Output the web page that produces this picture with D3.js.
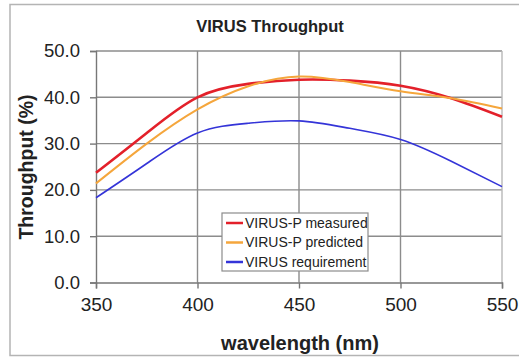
<!DOCTYPE html>
<html>
<head>
<meta charset="utf-8">
<script src="https://cdn.jsdelivr.net/npm/d3@7"></script>
<style>
  body { margin: 0; background: #fff; }
  text { font-family: "Liberation Sans", Arial, sans-serif; fill: #222; }
</style>
</head>
<body>
<div class="chartContainer"></div>
<script>
// wavelength samples (nm) and throughput (%)
const wavelengths = [350, 375, 400, 425, 450, 475, 500, 525, 550];
const measured    = [23.7, 32.3, 40.0, 42.9, 43.8, 43.6, 42.5, 39.8, 35.8];
const predicted   = [21.4, 30.0, 37.4, 42.4, 44.5, 43.3, 41.3, 39.8, 37.6];
const requirement = [18.3, 25.7, 32.3, 34.4, 34.9, 33.3, 30.9, 26.2, 20.7];
const xTicks = [350, 400, 450, 500, 550];
const yTicks = [0, 10, 20, 30, 40, 50];

const seriesNames = ['VIRUS-P measured', 'VIRUS-P predicted', 'VIRUS requirement'];
const seriesColors = ['#e3202a', '#f5a63c', '#3434d8'];
const seriesWidths = [2.6, 2, 1.6];

const width = 519, height = 358;
const margin = {top: 51, right: 17, bottom: 75.5, left: 96};

const svg = d3.select('.chartContainer')
  .append('svg')
  .attr('width', width)
  .attr('height', height);

// outer frame
svg.append('rect')
  .attr('x', 10).attr('y', 4.5)
  .attr('width', 530).attr('height', 351)
  .attr('fill', 'none')
  .attr('stroke', '#b4b4b4')
  .attr('stroke-width', 1.5);

const x = d3.scaleLinear().domain([350, 550]).range([margin.left, width - margin.right]);
const y = d3.scaleLinear().domain([0, 50]).range([height - margin.bottom, margin.top]);

// grid
const grid = svg.append('g');
grid.selectAll('.hgrid')
  .data(yTicks.filter(d => d > 0))
  .enter().append('line')
  .attr('x1', x(350)).attr('x2', x(550))
  .attr('y1', d => y(d)).attr('y2', d => y(d))
  .attr('stroke', '#8c8c8c').attr('stroke-width', 1.4);
grid.selectAll('.vgrid')
  .data(xTicks.filter(d => d > 350))
  .enter().append('line')
  .attr('x1', d => x(d)).attr('x2', d => x(d))
  .attr('y1', y(0)).attr('y2', y(50))
  .attr('stroke', d => d === 550 ? '#b8b8b8' : '#8c8c8c').attr('stroke-width', 1.4);

// axes
const xAxis = svg.append('g')
  .attr('transform', `translate(0,${y(0)})`)
  .call(d3.axisBottom(x).tickValues(xTicks).tickSize(6).tickPadding(9).tickFormat(d3.format('d')));
const yAxis = svg.append('g')
  .attr('transform', `translate(${x(350)},0)`)
  .call(d3.axisLeft(y).tickValues(yTicks).tickSize(6).tickPadding(10).tickFormat(d3.format('.1f')));

[xAxis, yAxis].forEach(a => {
  a.select('.domain').attr('stroke', '#777').attr('stroke-width', 1.4);
  a.selectAll('.tick line').attr('stroke', '#777').attr('stroke-width', 1.4);
  a.selectAll('text').attr('fill', '#222').style('font-family', '"Liberation Sans", Arial, sans-serif');
});
xAxis.selectAll('text').style('font-size', '19px');
yAxis.selectAll('text').style('font-size', '18.5px');

// lines
const series = [measured, predicted, requirement];
const line = d3.line()
  .x((d, i) => x(wavelengths[i]))
  .y(d => y(d))
  .curve(d3.curveNatural);

svg.append('g').selectAll('path')
  .data(series)
  .enter().append('path')
  .attr('d', d => line(d))
  .attr('fill', 'none')
  .attr('stroke', (d, i) => seriesColors[i])
  .attr('stroke-width', (d, i) => seriesWidths[i]);

// title and axis labels
svg.append('text')
  .attr('x', 270).attr('y', 32)
  .attr('text-anchor', 'middle')
  .style('font-size', '16.5px').style('font-weight', 'bold')
  .text('VIRUS Throughput');

svg.append('text')
  .attr('x', 300).attr('y', 350)
  .attr('text-anchor', 'middle')
  .style('font-size', '20px').style('font-weight', 'bold')
  .text('wavelength (nm)');

svg.append('text')
  .attr('transform', 'translate(33,167) rotate(-90)')
  .attr('text-anchor', 'middle')
  .style('font-size', '19.5px').style('font-weight', 'bold')
  .text('Throughput (%)');

// legend
const legend = svg.append('g').attr('transform', 'translate(222,213)');
legend.append('rect')
  .attr('width', 146).attr('height', 58)
  .attr('fill', '#fff')
  .attr('stroke', '#8c8c8c').attr('stroke-width', 1.2);
const rows = legend.selectAll('.row')
  .data(seriesNames)
  .enter().append('g')
  .attr('transform', (d, i) => `translate(0,${10 + i * 19.5})`);
rows.append('line')
  .attr('x1', 4).attr('x2', 21)
  .attr('stroke', (d, i) => seriesColors[i])
  .attr('stroke-width', 2.5);
rows.append('text')
  .attr('x', 23).attr('dy', '0.35em')
  .style('font-size', '14px')
  .text(d => d);
</script>
</body>
</html>
